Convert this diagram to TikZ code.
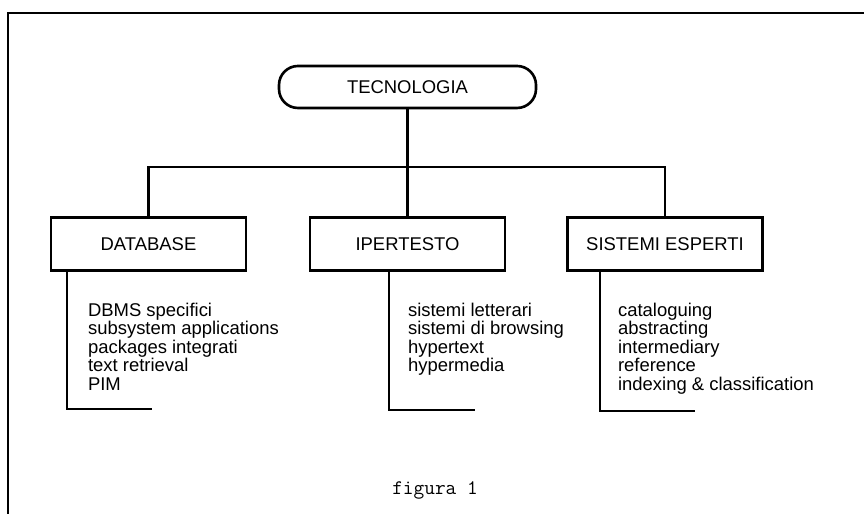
\documentclass[tikz,border=0pt]{standalone}
\usepackage{fontspec}
\setmainfont{Liberation Sans}

\begin{document}
\begin{tikzpicture}[line width=1.2pt,
    every node/.style={font=\fontsize{10.5}{10.5}\selectfont},
    root/.style={draw,line width=1.5pt,rounded corners=0.38cm,minimum width=5.14cm,minimum height=0.84cm},
    branch/.style={draw,line width=1.5pt,minimum width=3.9cm,minimum height=1.06cm},
    items/.style={anchor=north west,align=left,inner sep=0pt}]

      \useasboundingbox (0,0) rectangle (17.28,10.28);

      % Page frame (runs off the right and bottom edges)
      \draw[line width=1.5pt] (0.16,-0.1) -- (0.16,10.02) -- (17.4,10.02);

      % Root and the three branches
      \node[root] (tec) at (8.15,8.54) {TECNOLOGIA};
      \node[branch] (db) at (2.97,5.4) {DATABASE};
      \node[branch] (ip) at (8.15,5.4) {IPERTESTO};
      \node[branch] (se) at (13.3,5.4) {SISTEMI ESPERTI};

      % Tree connectors
      \coordinate (bar) at (8.15,6.94);
      \draw (tec.south) -- (ip.north);
      \draw (db.north) |- (bar) -| (se.north);

      % Item lists
      \node[items] (dbl) at (1.74,4.24) {DBMS specifici\\subsystem applications\\packages integrati\\text retrieval\\PIM};
      \node[items] (ipl) at (8.14,4.24) {sistemi letterari\\sistemi di browsing\\hypertext\\hypermedia};
      \node[items] (sel) at (12.34,4.24) {cataloguing\\abstracting\\intermediary\\reference\\indexing \& classification};

      % L-shaped brackets under each branch
      \coordinate (db-foot) at (1.34,2.1);
      \coordinate (db-tail) at (3.04,2.1);
      \coordinate (ip-foot) at (7.78,2.08);
      \coordinate (ip-tail) at (9.5,2.08);
      \coordinate (se-foot) at (12.0,2.06);
      \coordinate (se-tail) at (13.9,2.06);
      \foreach \n in {db,ip,se}
        \draw (\n.south -| \n-foot) -- (\n-foot) -- (\n-tail);

      % Caption
      \node[font=\ttfamily\fontsize{11.8}{12}\selectfont] (cap) at (8.7,0.48) {figura 1};

    \end{tikzpicture}
\end{document}
